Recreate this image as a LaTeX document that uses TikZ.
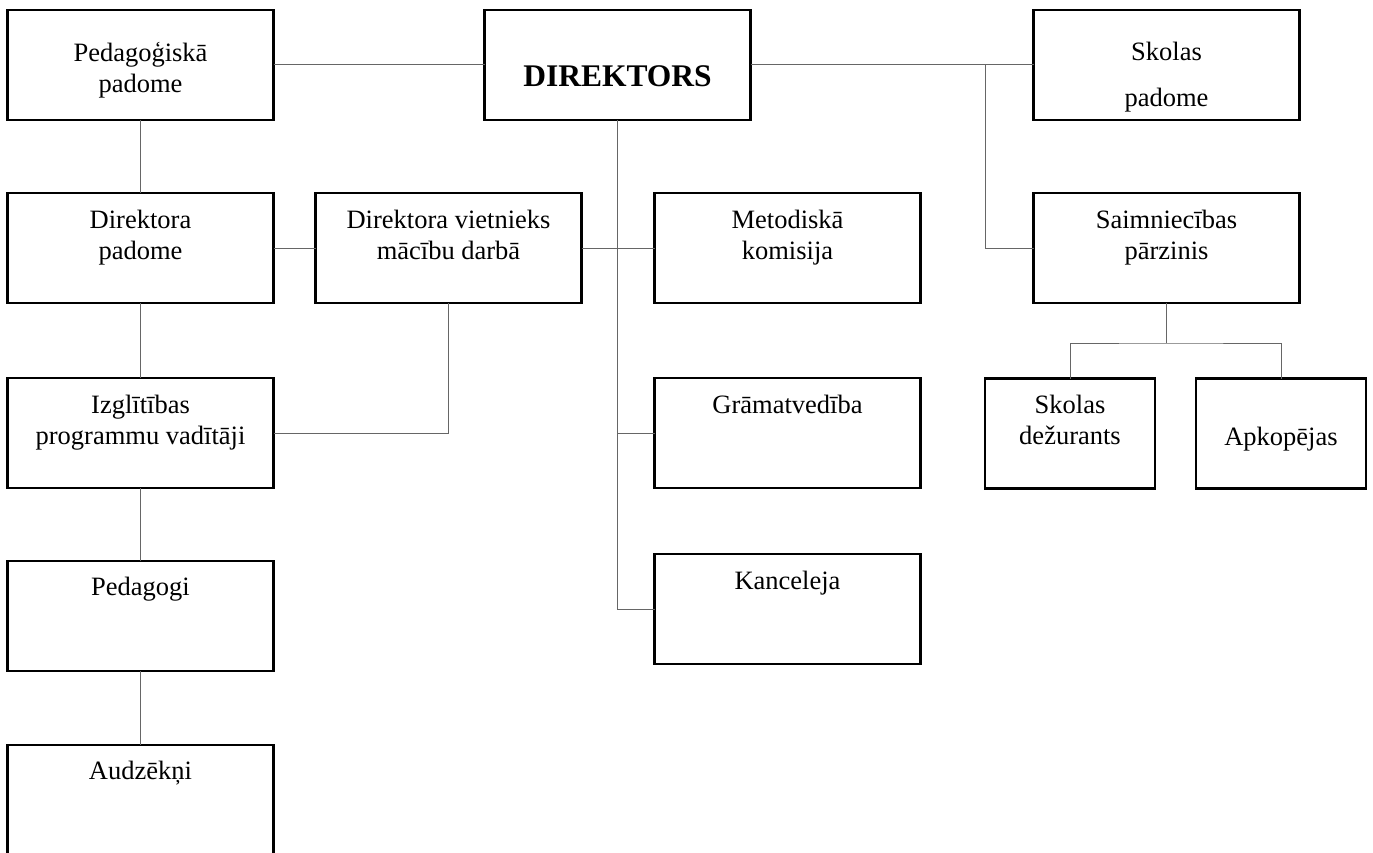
\documentclass[tikz,border=0pt]{standalone}
\usepackage{fontspec}
\setmainfont{Liberation Serif}
\usepackage{tikz}
\usetikzlibrary{positioning}
\tikzstyle{every node}=[font=\fontsize{26.5}{31}\selectfont]
\tikzstyle{unit}=[rectangle,
                  draw=black,
                  line width=2.2pt,
                  minimum width=266pt,
                  minimum height=110pt,
                  inner sep=0pt,
                  outer sep=0pt]
\tikzstyle{small unit}=[unit,
                        minimum width=170pt]
\tikzstyle{caption}=[align=center,
                     inner sep=0pt,
                     anchor=base]
\tikzstyle{link}=[draw=black!60,
                  line width=1pt]
\begin{document}
\begin{tikzpicture}[x=1pt,y=-1pt]
\useasboundingbox (0,0) rectangle (1373,853);
% boxes
\node (ped)   [unit] at (140.5,65) {};
\node (dir)   [unit,right=211pt of ped] {};
\node (skp)   [unit,right=283pt of dir] {};
\node (dp)    [unit,below=73pt of ped] {};
\node (izgl)  [unit,below=75pt of dp] {};
\node (pedag) [unit,below=73pt of izgl] {};
\node (audz)  [unit,below=74pt of pedag] {};
\node (dv)    [unit,right=42pt of dp] {};
\node (met)   [unit,right=73pt of dv] {};
\node (gram)  [unit,below=75pt of met] {};
\node (kanc)  [unit,below=66pt of gram] {};
\node (saim)  [unit,below=73pt of skp] {};
\node (dez)   [small unit] at (1070,433.5) {};
\node (apk)   [small unit,right=41pt of dez] {};
% texts (base = last line)
\node (ped-t)   [caption] at ([yshift=-83pt]ped.north) {Pedagoģiskā\\padome};
\node (dir-t)   [caption,font=\fontsize{31.5}{36}\selectfont\bfseries] at ([yshift=-77pt]dir.north) {DIREKTORS};
\node (skp-t)   [caption] at ([yshift=-97pt]skp.north) {Skolas\\[15pt]padome};
\node (dp-t)    [caption] at ([yshift=-66pt]dp.north) {Direktora\\padome};
\node (dv-t)    [caption] at ([yshift=-66pt]dv.north) {Direktora vietnieks\\mācību darbā};
\node (met-t)   [caption] at ([yshift=-66pt]met.north) {Metodiskā\\komisija};
\node (saim-t)  [caption] at ([yshift=-66pt]saim.north) {Saimniecības\\pārzinis};
\node (izgl-t)  [caption] at ([yshift=-66.5pt]izgl.north) {Izglītības\\programmu vadītāji};
\node (pedag-t) [caption] at ([yshift=-34pt]pedag.north) {Pedagogi};
\node (audz-t)  [caption] at ([yshift=-34pt]audz.north) {Audzēkņi};
\node (gram-t)  [caption] at ([yshift=-35pt]gram.north) {Grāmatvedība};
\node (kanc-t)  [caption] at ([yshift=-35pt]kanc.north) {Kanceleja};
\node (dez-t)   [caption] at ([yshift=-66pt]dez.north) {Skolas\\dežurants};
\node (apk-t)   [caption] at ([yshift=-67pt]apk.north) {Apkopējas};
% connectors
\coordinate (jct) at (985,65);
\coordinate (fork) at ([yshift=-40pt]saim.south);
\path[link] (ped) edge (dir);
\path[link] (dir) edge (skp);
\draw[link] (jct) |- (saim);
\path[link] (ped) edge (dp);
\path[link] (dp) edge (izgl);
\path[link] (izgl) edge (pedag);
\path[link] (pedag) edge (audz);
\path[link] (dp) edge (dv);
\path[link] (dv) edge (met);
\draw[link] (dir.south) -- (dir.south |- kanc) -- (kanc);
\draw[link] (dir.south |- gram) -- (gram);
\draw[link] (dv.south) |- (izgl);
\draw[link] (saim) -- (fork);
\draw[link] (dez) |- (fork) -| (apk);
\end{tikzpicture}
\end{document}
